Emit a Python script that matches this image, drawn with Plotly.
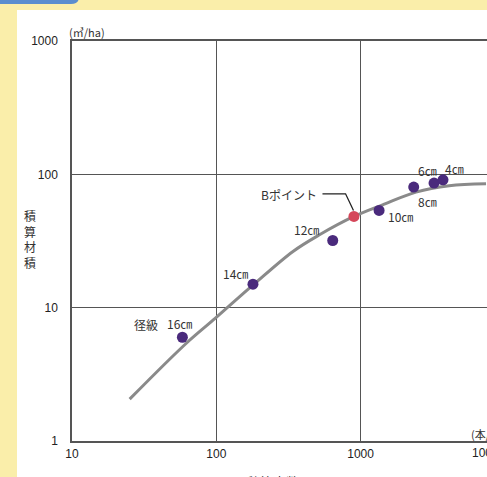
import numpy as np
import plotly.graph_objects as go

# ---- data ----
curve_x = [25.1, 62, 98.6, 180, 340, 519, 899, 1420, 2420, 4110, 7400]
curve_y = [2.06, 5.41, 8.34, 14.8, 26.4, 35.2, 48.3, 59.1, 73.6, 82.1, 85.0]

point_labels = ["16㎝", "14㎝", "12㎝", "10㎝", "8㎝", "6㎝", "4㎝"]
point_x = [58.2, 179.5, 641, 1343, 2334, 3227, 3724]
point_y = [6.0, 15.0, 31.9, 53.6, 80.3, 86.0, 91.0]

b_label = "Bポイント"
b_x = [899]
b_y = [48.3]

x_tick_vals = [10, 100, 1000]
x_tick_text = ["10", "100", "1000"]
y_tick_vals = [1, 10, 100, 1000]
y_tick_text = ["1", "10", "100", "1000"]

# ---- layout geometry ----
W, H = 487, 477
L, R, T, B = 72, 0, 41, 36
PW, PH = W - L - R, H - T - B


def px(v):
    return (v - L) / PW


def py(v):
    return 1 - (v - T) / PH


JP = "Noto Sans CJK JP, Noto Sans, sans-serif"
NUM = "Liberation Sans Narrow, Liberation Sans, Arial, sans-serif"

fig = go.Figure()

fig.add_trace(go.Scatter(
    x=curve_x, y=curve_y, mode="lines",
    line=dict(color="#8a8a8a", width=3, shape="spline", smoothing=1.0),
    hoverinfo="skip", showlegend=False))

fig.add_trace(go.Scatter(
    x=point_x, y=point_y, mode="markers",
    marker=dict(color="#4a2a7c", size=11, line=dict(width=0)),
    showlegend=False))

fig.add_trace(go.Scatter(
    x=b_x, y=b_y, mode="markers",
    marker=dict(color="#d5475a", size=11, line=dict(width=0)),
    showlegend=False))

# leader line for B point (offsets in log space from the B point)
bx, by = b_x[0], b_y[0]
fig.add_trace(go.Scatter(
    x=[bx * 10 ** (-0.218), bx * 10 ** (-0.058), bx * 10 ** (-0.003)],
    y=[by * 10 ** (0.170), by * 10 ** (0.170), by * 10 ** (0.045)],
    mode="lines", line=dict(color="#222", width=1.3),
    hoverinfo="skip", showlegend=False))

annotations = []

# point labels: (dx, dy) pixel offsets from the point
offsets = [(-3, 14), (-17, 11), (-26, 11), (21, -6), (14, -14), (-7, 13), (11, 11)]
for lab, x, y, (dx, dy) in zip(point_labels, point_x, point_y, offsets):
    annotations.append(dict(x=np.log10(x), y=np.log10(y), xref="x", yref="y",
                            text=lab, showarrow=False, xshift=dx, yshift=dy,
                            font=dict(family=JP, size=12, color="#333")))
annotations.append(dict(x=np.log10(point_x[0]), y=np.log10(point_y[0]), xref="x", yref="y",
                        text="径級", showarrow=False, xshift=-36, yshift=13,
                        font=dict(family=JP, size=12, color="#333")))
annotations.append(dict(x=np.log10(bx), y=np.log10(by), xref="x", yref="y",
                        text=b_label, showarrow=False, xshift=-65, yshift=22,
                        font=dict(family=JP, size=12, color="#333")))

# unit labels
annotations.append(dict(x=px(67), y=py(32), xref="paper", yref="paper",
                        text="(㎥/ha)", showarrow=False, xanchor="left", yanchor="middle",
                        font=dict(family=JP, size=11, color="#333")))
annotations.append(dict(x=px(469), y=py(434), xref="paper", yref="paper",
                        text="(本/ha)", showarrow=False, xanchor="left", yanchor="middle",
                        font=dict(family=JP, size=11, color="#333")))
# cut-off 10000 tick label at right edge
annotations.append(dict(x=px(470), y=py(453), xref="paper", yref="paper",
                        text="10000", showarrow=False, xanchor="left", yanchor="middle",
                        font=dict(family=NUM, size=12, color="#222")))

# y title, stacked
annotations.append(dict(x=px(30), y=py(239), xref="paper", yref="paper",
                        text="積<br>算<br>材<br>積", showarrow=False,
                        xanchor="center", yanchor="middle",
                        font=dict(family=JP, size=12, color="#333")))
# x title
annotations.append(dict(x=px(273), y=py(470), xref="paper", yref="paper",
                        text="積算本数", showarrow=False, xanchor="center", yanchor="top",
                        font=dict(family=JP, size=13, color="#333")))

shapes = [
    dict(type="rect", xref="paper", yref="paper", layer="below",
         x0=px(17), x1=px(W + 10), y0=py(H + 10), y1=py(10),
         fillcolor="white", line=dict(width=0)),
    dict(type="path", xref="paper", yref="paper", layer="below",
         path=(f"M {px(-5)},{py(-5)} L {px(79)},{py(-5)} L {px(79)},{py(-3)} "
               f"Q {px(79)},{py(4)} {px(71)},{py(4)} L {px(-5)},{py(4)} Z"),
         fillcolor="#5a8dcf", line=dict(width=0)),
]

fig.update_layout(
    width=W, height=H,
    margin=dict(l=L, r=R, t=T, b=B, pad=0),
    paper_bgcolor="#faeeaa",
    plot_bgcolor="rgba(0,0,0,0)",
    showlegend=False,
    annotations=annotations,
    shapes=shapes,
    xaxis=dict(type="log", range=[1, 1 + (W - L) / 144.3],
               tickvals=x_tick_vals, ticktext=x_tick_text,
               showgrid=True, gridcolor="#555", gridwidth=1,
               showline=True, linecolor="#555", linewidth=1.5, mirror=True,
               ticks="", ticklabelstandoff=1, zeroline=False,
               tickfont=dict(family=NUM, size=12, color="#222")),
    yaxis=dict(type="log", range=[0, 3],
               tickvals=y_tick_vals, ticktext=y_tick_text,
               showgrid=True, gridcolor="#555", gridwidth=1,
               showline=True, linecolor="#555", linewidth=1.5,
               ticks="", ticklabelstandoff=10, zeroline=False,
               tickfont=dict(family=NUM, size=12, color="#222")),
)

fig.write_html("out.html", config={"displayModeBar": False},
               post_script="document.body.style.margin='0';document.body.style.overflow='hidden';")
